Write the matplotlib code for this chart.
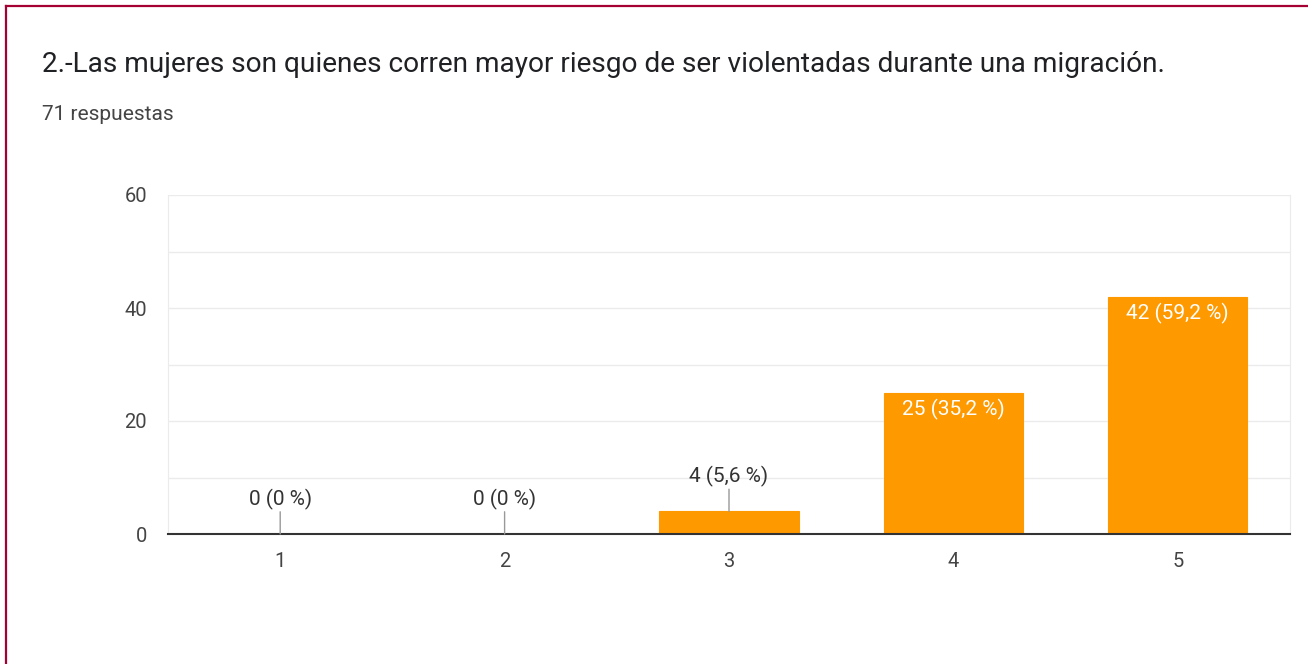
import matplotlib.pyplot as plt
from matplotlib.lines import Line2D
import numpy as np

plt.rcParams['font.family'] = ['Roboto', 'DejaVu Sans']

# datos
categories = ['1', '2', '3', '4', '5']
counts = [0, 0, 4, 25, 42]
percents = ['0', '0', '5,6', '35,2', '59,2']
total = 71
title = '2.-Las mujeres son quienes corren mayor riesgo de ser violentadas durante una migración.'

orange = '#ff9900'
x = np.arange(len(categories))

fig = plt.figure(figsize=(13.08, 6.64), dpi=100)
ax = fig.add_axes([168 / 1308, 1 - 534 / 664, (1290 - 168) / 1308, (534 - 195) / 664])

ax.bar(x, counts, width=0.62, color=orange, edgecolor=orange, linewidth=0.8, zorder=3)

ax.set_xlim(-0.5, len(categories) - 0.5)
ax.set_ylim(0, 60)
ax.set_yticks([0, 20, 40, 60])
ax.set_yticks([10, 30, 50], minor=True)
ax.set_xticks(x, categories)
ax.grid(axis='y', which='both', color='#ebebeb', linewidth=1, zorder=0)
ax.tick_params(axis='both', which='both', length=0, labelsize=14.5, colors='#444444')
ax.tick_params(axis='x', pad=13)
ax.tick_params(axis='y', pad=15)

ax.spines['top'].set_visible(False)
ax.spines['left'].set_color('#ebebeb')
ax.spines['right'].set_color('#ebebeb')
ax.spines['bottom'].set_color('#333333')
ax.spines['bottom'].set_linewidth(1.5)
ax.spines['bottom'].set_zorder(4)

# etiquetas de valores
for xi, c, p in zip(x, counts, percents):
    label = f'{c} ({p} %)'
    if c >= 10:
        ax.annotate(label, xy=(xi, c), xytext=(0, -12), textcoords='offset points',
                    ha='center', va='center', color='white', fontsize=15, zorder=5)
    else:
        ax.annotate('', xy=(xi, c), xytext=(0, 16), textcoords='offset points',
                    arrowprops=dict(arrowstyle='-', color='#999999', lw=1,
                                    shrinkA=0, shrinkB=0), zorder=5)
        ax.annotate(label, xy=(xi, c), xytext=(0, 25), textcoords='offset points',
                    ha='center', va='center', color='#333333', fontsize=15, zorder=5)

fig.text(42 / 1308, 1 - 64 / 664, title, fontsize=20.2, color='#202124', va='center', ha='left')
fig.text(42 / 1308, 1 - 115 / 664, f'{total} respuestas', fontsize=15, color='#444444',
         va='center', ha='left')

# borde
border = '#a50034'
fig.add_artist(Line2D([6 / 1308, 1], [1 - 6 / 664, 1 - 6 / 664], color=border, lw=1.6,
                      transform=fig.transFigure))
fig.add_artist(Line2D([6 / 1308, 6 / 1308], [0, 1 - 6 / 664], color=border, lw=1.6,
                      transform=fig.transFigure))

fig.savefig('out.png', dpi=100)
